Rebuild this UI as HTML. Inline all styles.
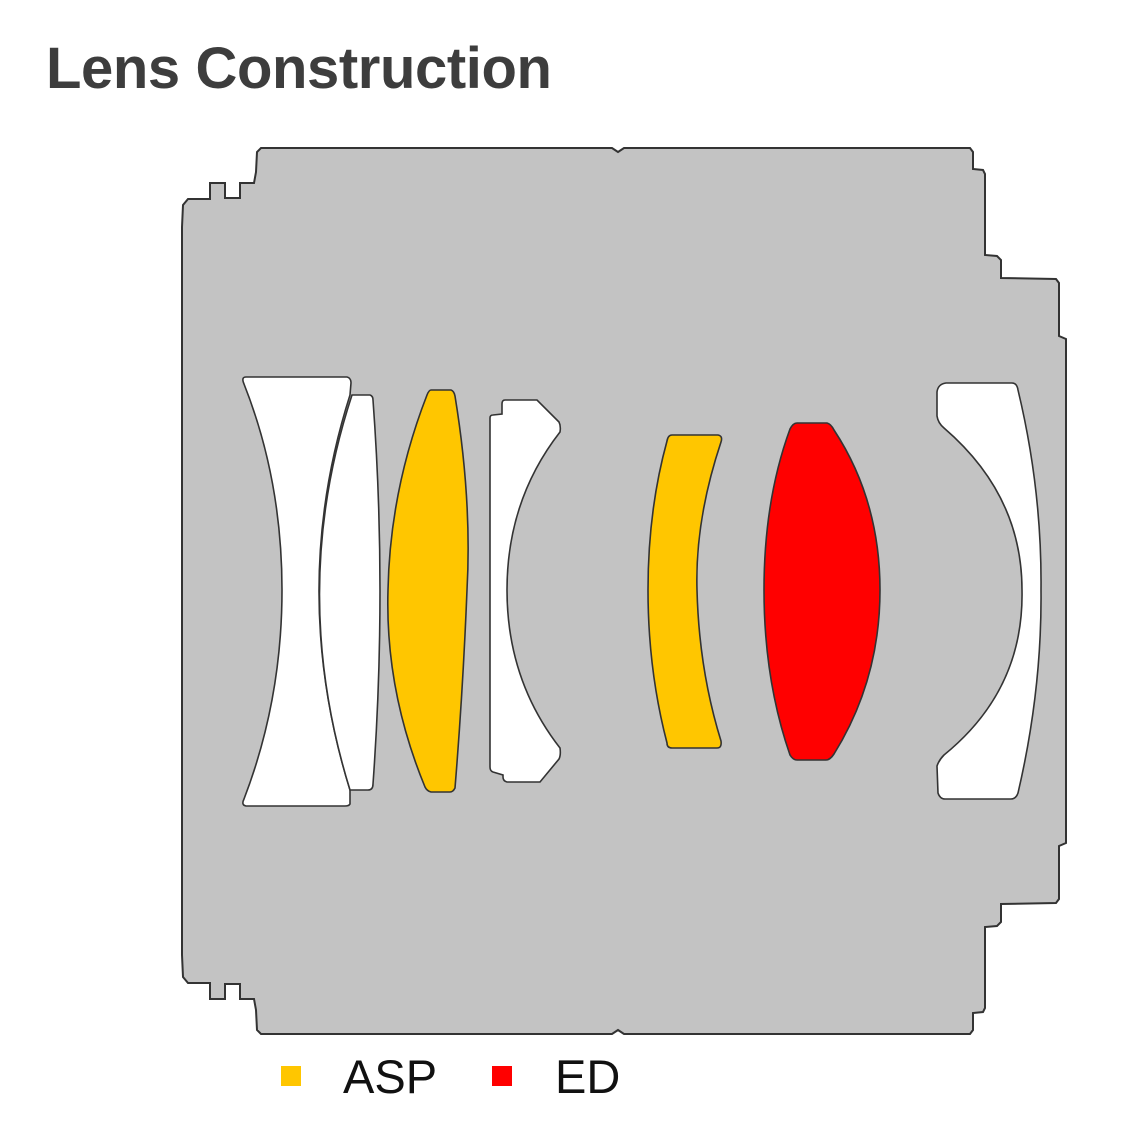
<!DOCTYPE html>
<html><head><style>
html,body{margin:0;padding:0;background:#fff;width:1140px;height:1140px;overflow:hidden}
</style></head><body>
<svg width="1140" height="1140" viewBox="0 0 1140 1140" xmlns="http://www.w3.org/2000/svg">
<text x="46" y="88" font-family="Liberation Sans, sans-serif" font-weight="bold" font-size="58" fill="#3d3d3d" letter-spacing="-0.4">Lens Construction</text>
<path d="M182,227 L183,205 L188,199 L210,199 L210,183 L225,183 L225,198 L240,198 L240,183 L254,183 L256,172 L257,152 L261,148 L612,148 L618,152 L624,148 L970,148 L973,152 L973,169 L983,170 L985,174 L985,255 L997,256 L1001,260 L1001,278 L1056,279 L1059,283 L1059,336 L1066,339 L1066,843 L1059,846 L1059,899 L1056,903 L1001,904 L1001,922 L997,926 L985,927 L985,1008 L983,1012 L973,1013 L973,1030 L970,1034 L624,1034 L618,1030 L612,1034 L261,1034 L257,1030 L256,1010 L254,999 L240,999 L240,984 L225,984 L225,999 L210,999 L210,983 L188,983 L183,977 L182,955 Z" fill="#c3c3c3" stroke="#333" stroke-width="2"/>
<g stroke="#333" stroke-width="1.6">
<path d="M246,377 L347,377 Q351,378 351,383 L350,395 Q288,590 350,790 L350,804 Q349,806 345,806 L246,806 Q241,805 244,799 Q282,700 282,590 Q282,480 244,384 Q241,377 246,377 Z" fill="#fff"/>
<path d="M352,395 L370,395 Q373,396 373,400 Q387,590 373,784 Q373,790 368,790 L350,790 Q288,590 352,395 Z" fill="#fff"/>
<path d="M431,390 L451,390 Q454,391 455,396 Q472,500 467,590 Q463,690 455,788 Q453,792 450,792 L431,792 Q427,791 425,787 Q385,690 388,590 Q390,490 427,395 Q429,390 431,390 Z" fill="#ffc600"/>
<path d="M505,400 L537,400 L559,422 Q561,426 560,432 Q507,500 507,590 Q507,680 560,748 Q561,755 559,759 L540,782 L507,782 Q503,781 503,777 L503,775 L493,772 Q490,771 490,767 L490,418 Q490,415 493,415 L502,414 L502,404 Q502,400 505,400 Z" fill="#fff"/>
<path d="M672,435 L718,435 Q723,436 721,442 Q695,520 697,590 Q699,670 721,741 Q722,748 717,748 L672,748 Q667,748 667,743 Q648,670 648,590 Q648,510 667,441 Q668,435 672,435 Z" fill="#ffc600"/>
<path d="M797,423 L827,423 Q831,424 834,430 Q880,500 880,590 Q880,680 834,754 Q830,760 826,760 L797,760 Q793,760 790,755 Q764,680 764,590 Q764,500 790,429 Q793,423 797,423 Z" fill="#ff0000"/>
<path d="M946,383 L1012,383 Q1017,383 1018,390 Q1042,490 1041,590 Q1042,690 1018,793 Q1016,799 1011,799 L945,799 Q940,799 938,793 L937,766 Q939,760 944,755 Q1024,690 1022,590 Q1022,495 944,428 Q938,423 937,416 L937,392 Q938,384 946,383 Z" fill="#fff"/>
</g>
<rect x="281" y="1066" width="20" height="20" fill="#ffc600"/>
<text x="343" y="1093" font-family="Liberation Sans, sans-serif" font-size="47" fill="#111">ASP</text>
<rect x="492" y="1066" width="20" height="20" fill="#ff0000"/>
<text x="555" y="1093" font-family="Liberation Sans, sans-serif" font-size="47" fill="#111">ED</text>
</svg>
</body></html>
